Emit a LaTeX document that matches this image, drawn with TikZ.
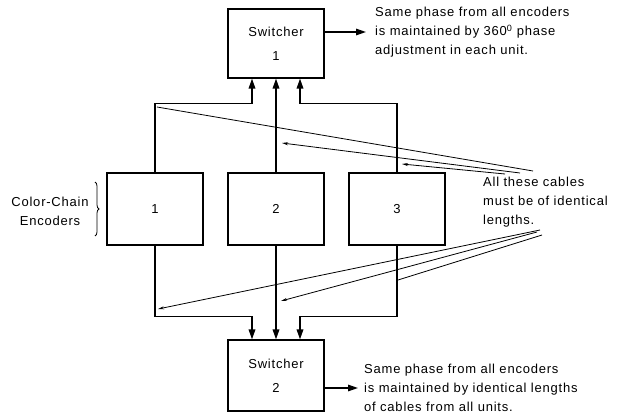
\documentclass[tikz,border=0pt]{standalone}
\usepackage{fontspec}
\setmainfont[LetterSpace=6]{Liberation Sans}
\usepackage{tikz}
\usetikzlibrary{arrows.meta,positioning,decorations.pathreplacing,calc}

\begin{document}
\begin{tikzpicture}[x=1pt, y=-1pt,
  unit/.style={rectangle, draw, line width=1.1pt, minimum width=96pt, minimum height=72pt, inner sep=0pt, font=\fontsize{13}{24}\selectfont, align=center},
  cable/.style={-{Triangle[length=10pt, width=6.5pt]}, line width=1.7pt},
  pointer/.style={-{Stealth[length=6pt, width=3pt]}, line width=0.8pt},
  note/.style={font=\fontsize{13}{19}\selectfont, align=left, inner sep=0pt}
]
\useasboundingbox (0,0) rectangle (618,414);

\node[unit, minimum height=69pt] (sw1) at (276,43.5) {Switcher\\1};
\node[unit, minimum height=71pt] (sw2) at (276,375.5) {Switcher\\2};
\node[unit] (enc1) at (155,209) {1};
\node[unit] (enc2) at (276,209) {2};
\node[unit] (enc3) at (397,209) {3};

% cables up to switcher 1
\draw[cable] (enc1.north) |- ($(sw1.south)+(-24,25)$) -- ($(sw1.south)+(-24,0)$);
\draw[cable] (enc2.north) -- (sw1.south);
\draw[cable] (enc3.north) |- ($(sw1.south)+(24,25)$) -- ($(sw1.south)+(24,0)$);

% cables down to switcher 2
\draw[cable] (enc1.south) |- ($(sw2.north)+(-24,-23)$) -- ($(sw2.north)+(-24,0)$);
\draw[cable] (enc2.south) -- (sw2.north);
\draw[cable] (enc3.south) |- ($(sw2.north)+(24,-23)$) -- ($(sw2.north)+(24,0)$);

% outputs
\coordinate (out1) at (366,32);
\coordinate (out2) at (358,388);
\draw[cable, line width=1.4pt] (sw1.east |- out1) -- (out1);
\draw[cable, line width=1.4pt] (sw2.east |- out2) -- (out2);

\node[note, anchor=west] (note1) at (375,32) {Same phase from all encoders\\is maintained by 360\textsuperscript{0} phase\\adjustment in each unit.};
\node[note, anchor=west] (note2) at (364,388) {Same phase from all encoders\\is maintained by identical lengths\\of cables from all units.};
\node[note, anchor=west] (cablenote) at (483,202) {All these cables\\must be of identical\\lengths.};
\node[note, align=center] (enclabel) at (50,211) {Color-Chain\\Encoders};
\draw[decorate, decoration={brace, amplitude=4pt}, line width=0.8pt] (95,182) -- (95,236);

% pointers to the cables
\coordinate (a1) at (533,171);
\coordinate (a2) at (520,173);
\coordinate (a3) at (505,174);
\coordinate (t1) at (157,107);
\coordinate (t2) at (282,143);
\coordinate (t3) at (402,164);
\coordinate (b1) at (540,230);
\coordinate (b2) at (537,232);
\coordinate (b3) at (542,235);
\coordinate (u1) at (158,309);
\coordinate (u2) at (281,301);
\coordinate (u3) at (398,280);
\draw[pointer, -] (a1) -- (t1);
\draw[pointer] (a2) -- (t2);
\draw[pointer] (a3) -- (t3);
\draw[pointer] (b1) -- (u1);
\draw[pointer] (b2) -- (u2);
\draw[pointer, -] (b3) -- (u3);
\end{tikzpicture}
\end{document}
